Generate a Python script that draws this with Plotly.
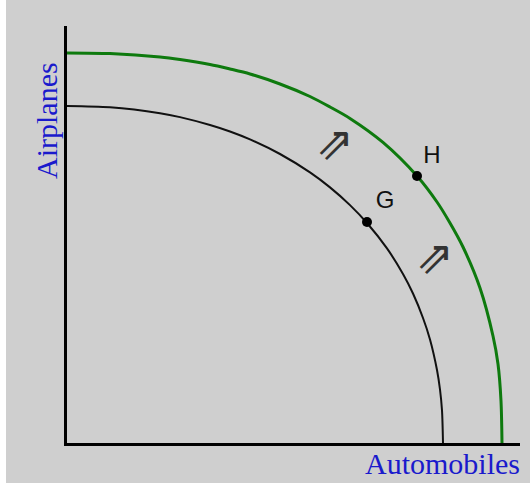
import plotly.graph_objects as go

# Production possibilities frontiers
ppf_old_autos = [0, 43, 93, 113, 143, 163, 183, 213, 243, 263, 283, 300, 320, 336, 346, 356, 363, 370, 373, 375, 376]
ppf_old_planes = [337, 335.7, 329.8, 325.9, 318, 311.5, 303.6, 289, 270.6, 255.6, 237.9, 220, 194.6, 169, 149.5, 125, 103.6, 73, 53.5, 32.6, 0]

ppf_new_autos = [0, 43, 93, 113, 143, 163, 183, 213, 243, 263, 283, 316, 350, 370, 383, 396, 413, 426, 431, 434, 435]
ppf_new_planes = [390, 389.4, 386, 383.5, 378.5, 374, 369, 359, 346.5, 336, 324.6, 300.6, 267, 241, 220, 196, 155, 107, 79, 42, 0]

point_labels = ["G", "H"]
point_autos = [300, 350]
point_planes = [221, 267]
label_autos = [318, 365]
label_planes = [241, 286]

arrow_autos = [268, 368]
arrow_planes = [296, 182]

x_title = "Automobiles"
y_title = "Airplanes"

fig = go.Figure()
fig.add_trace(go.Scatter(x=ppf_old_autos, y=ppf_old_planes, mode="lines",
                         line=dict(color="#111111", width=2, shape="spline", smoothing=0.8),
                         hoverinfo="skip"))
fig.add_trace(go.Scatter(x=ppf_new_autos, y=ppf_new_planes, mode="lines",
                         line=dict(color="#0e7a0e", width=3, shape="spline", smoothing=0.8),
                         hoverinfo="skip"))
fig.add_trace(go.Scatter(x=point_autos, y=point_planes, mode="markers",
                         marker=dict(color="black", size=10)))
fig.add_trace(go.Scatter(x=label_autos, y=label_planes, mode="text", text=point_labels,
                         textfont=dict(family="Liberation Sans, Arial", size=24, color="#111111")))
fig.add_trace(go.Scatter(x=arrow_autos, y=arrow_planes, mode="text", text=["⇗", "⇗"],
                         textfont=dict(family="DejaVu Sans", size=46, color="#333333")))

fig.update_layout(
    width=530, height=483,
    margin=dict(l=67, r=10, t=26, b=40),
    paper_bgcolor="#cfcfcf", plot_bgcolor="#cfcfcf",
    showlegend=False,
    xaxis=dict(range=[0, 453], showgrid=False, zeroline=False, showticklabels=False,
               showline=True, linecolor="black", linewidth=3, ticks=""),
    yaxis=dict(range=[0, 417], showgrid=False, zeroline=False, showticklabels=False,
               showline=True, linecolor="black", linewidth=3, ticks=""),
    shapes=[dict(type="rect", xref="paper", yref="paper", x0=-67/453, x1=-61/453,
                 y0=-40/417, y1=1 + 26/417, fillcolor="white", line=dict(width=0), layer="below")],
    annotations=[
        dict(text=x_title, xref="paper", yref="paper", x=1 + 2/453, y=-2/417,
             xanchor="right", yanchor="top", showarrow=False,
             font=dict(family="Liberation Serif, Times New Roman", size=30, color="#1a1acc")),
        dict(text=y_title, xref="paper", yref="paper", x=-2/453, y=1 - 34/417,
             xanchor="right", yanchor="top", textangle=-90, showarrow=False,
             font=dict(family="Liberation Serif, Times New Roman", size=30, color="#1a1acc")),
    ],
)

fig.write_html("out.html", config={"displayModeBar": False},
               post_script="document.body.style.margin='0';")
